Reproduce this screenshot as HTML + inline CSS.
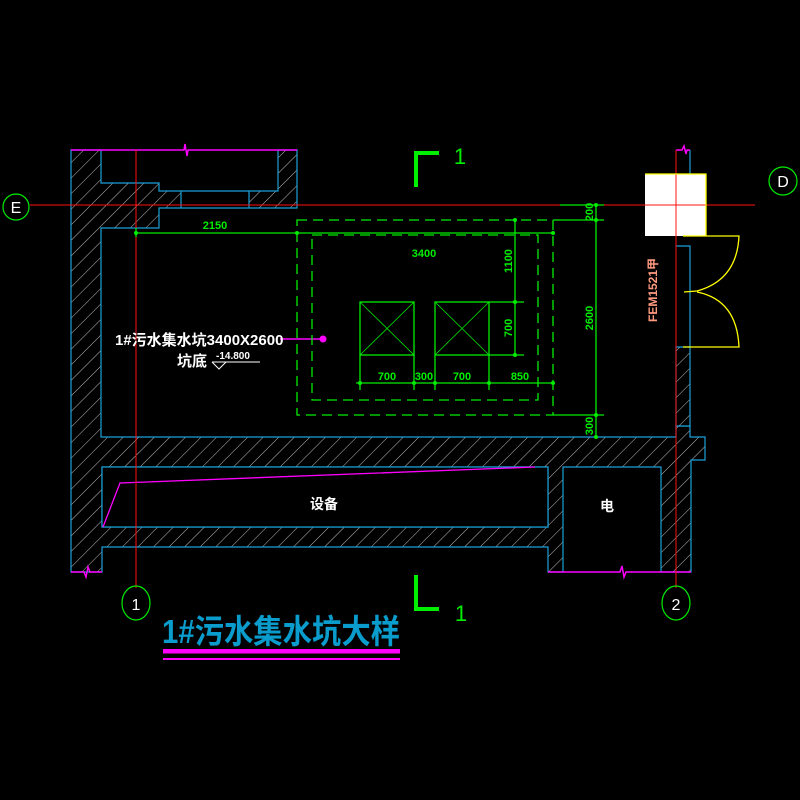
<!DOCTYPE html>
<html><head><meta charset="utf-8"><style>
html,body{margin:0;padding:0;background:#000;}
svg{display:block}
text{font-family:"Liberation Sans","Noto Sans CJK SC",sans-serif;}
</style></head><body>
<svg width="800" height="800" viewBox="0 0 800 800" xmlns="http://www.w3.org/2000/svg">
<defs>
<pattern id="h" patternUnits="userSpaceOnUse" width="11" height="11" patternTransform="rotate(45)">
<rect width="11" height="11" fill="#000"/>
<line x1="0" y1="0" x2="0" y2="11" stroke="#bdbdbd" stroke-width="1"/>
</pattern>
</defs>
<rect width="800" height="800" fill="#000"/>

<!-- hatched walls -->
<g fill="url(#h)" stroke="#1aa0d8" stroke-width="1.2">
<path d="M71,150 L101,150 L101,183 L159,183 L159,191 L181,191 L181,208 L159,208 L159,228 L101,228 L101,437 L676,437 L676,426 L690,426 L690,437 L705,437 L705,460 L691,460 L691,572 L661,572 L661,467 L563,467 L563,572 L548,572 L548,547 L102,547 L102,572 L71,572 Z M102,467 L102,527 L548,527 L548,467 Z"/>
<path d="M278,150 L297,150 L297,208 L249,208 L249,191 L278,191 Z"/>
<path d="M676,347 L690,347 L690,426 L676,426 Z"/>
</g>
<rect x="102" y="467" width="446" height="60" fill="#000" stroke="#1aa0d8" stroke-width="1.2"/>
<line x1="181" y1="191" x2="249" y2="191" stroke="#1aa0d8" stroke-width="1.2"/>
<line x1="181" y1="208" x2="249" y2="208" stroke="#1aa0d8" stroke-width="1.2"/>
<path d="M676,246 L690,246 L690,347 M690,175 L690,150" fill="none" stroke="#1aa0d8" stroke-width="1.2"/>

<!-- magenta break lines -->
<g stroke="#ff00ff" stroke-width="1.5" fill="none">
<path d="M71,150 L184,150 L185,144 L187,156 L188,150 L297,150"/>
<path d="M71,572 L84,572 L86,577 L88,567 L90,572 L102,572"/>
<path d="M548,572 L620,572 L622,566 L624,577 L626,572 L691,572"/>
<path d="M676,150 L682,150 L684,146 L686,154 L687,150 L690,150"/>
<path d="M103,527 L120,483 L535,467" stroke-width="1.3"/>
<path d="M280,339 L323,339"/>
</g>
<circle cx="323" cy="339" r="3.5" fill="#ff00ff"/>

<!-- red axes -->
<g stroke="#ff1010" stroke-width="1">
<line x1="30" y1="205" x2="755" y2="205"/>
<line x1="136" y1="150" x2="136" y2="588"/>
<line x1="676" y1="150" x2="676" y2="588"/>
</g>

<!-- white box + door -->
<rect x="645" y="174" width="61" height="62" fill="#fff"/>
<line x1="676" y1="174" x2="676" y2="236" stroke="#ff1010"/>
<line x1="645" y1="205" x2="706" y2="205" stroke="#ff1010"/>
<g stroke="#ffff00" stroke-width="1.3" fill="none">
<path d="M645,174 L706,174 L706,236"/>
<path d="M683,236 L739,236 Q737,280 697,291 L684,292"/>
<path d="M683,347 L739,347 Q737,300 697,292"/>
</g>
<text transform="translate(657,290) rotate(-90)" fill="#ff9a80" font-size="12" text-anchor="middle" font-weight="bold">FEM1521甲</text>

<!-- green pit -->
<g stroke="#00ee00" stroke-width="1.3" fill="none">
<rect x="297" y="220" width="256" height="195" stroke-dasharray="10,6"/>
<rect x="312" y="235" width="226" height="165" stroke-dasharray="10,6"/>
<rect x="360" y="302" width="54" height="53"/>
<rect x="435" y="302" width="54" height="53"/>
<path d="M360,302 L414,355 M414,302 L360,355 M435,302 L489,355 M489,302 L435,355" stroke-width="0.8"/>
<line x1="136" y1="233" x2="553" y2="233"/>
<line x1="136" y1="228" x2="136" y2="237"/>
<line x1="356" y1="383" x2="553" y2="383"/>
<path d="M360,355 L360,390 M414,355 L414,390 M435,355 L435,390 M489,355 L489,390"/>
<line x1="515" y1="220" x2="515" y2="355"/>
<path d="M489,302 L524,302 M489,355 L524,355"/>
<line x1="596" y1="205" x2="596" y2="437"/>
<path d="M560,205 L604,205 M553,220 L604,220 M553,415 L604,415"/>
</g>
<g fill="#00ee00">
<circle cx="136" cy="233" r="2"/><circle cx="297" cy="233" r="2"/><circle cx="553" cy="233" r="2"/>
<circle cx="360" cy="383" r="2"/><circle cx="414" cy="383" r="2"/><circle cx="435" cy="383" r="2"/><circle cx="489" cy="383" r="2"/><circle cx="553" cy="383" r="2"/>
<circle cx="515" cy="220" r="2"/><circle cx="515" cy="302" r="2"/><circle cx="515" cy="355" r="2"/>
<circle cx="596" cy="205" r="2"/><circle cx="596" cy="220" r="2"/><circle cx="596" cy="415" r="2"/><circle cx="596" cy="437" r="2"/>
</g>
<g fill="#00ee00" font-size="11" font-weight="bold" text-anchor="middle">
<text x="215" y="229">2150</text>
<text x="424" y="257" transform="translate(0,0)">3400</text>
<text x="387" y="380">700</text>
<text x="424" y="380">300</text>
<text x="462" y="380">700</text>
<text x="520" y="380">850</text>
<text transform="translate(512,261) rotate(-90)">1100</text>
<text transform="translate(512,328) rotate(-90)">700</text>
<text transform="translate(593,318) rotate(-90)">2600</text>
<text transform="translate(593,212) rotate(-90)">200</text>
<text transform="translate(593,426) rotate(-90)">300</text>
</g>

<!-- labels -->
<g fill="#fff" font-weight="bold">
<text x="115" y="345" font-size="15">1#污水集水坑3400X2600</text>
<text x="177" y="366" font-size="15">坑底</text>
<text x="216" y="359" font-size="10">-14.800</text>
<text x="310" y="509" font-size="14">设备</text>
<text x="600" y="511" font-size="14">电</text>
</g>
<path d="M212,362 L260,362 M212,362 L219,369 L226,362" stroke="#fff" fill="none" stroke-width="1"/>

<!-- axis bubbles -->
<g stroke="#00ee00" stroke-width="1.2" fill="none">
<circle cx="16" cy="207" r="13"/>
<circle cx="783" cy="181" r="14"/>
<ellipse cx="136" cy="603" rx="14" ry="17"/>
<ellipse cx="676" cy="603" rx="14" ry="17"/>
</g>
<g fill="#fff" font-size="16" text-anchor="middle">
<text x="16" y="213">E</text>
<text x="783" y="187">D</text>
<text x="136" y="610">1</text>
<text x="676" y="610">2</text>
</g>

<!-- section marks -->
<g fill="#00ee00">
<rect x="414" y="151" width="4" height="36"/><rect x="414" y="151" width="25" height="4"/>
<rect x="414" y="575" width="4" height="36"/><rect x="414" y="607" width="25" height="4"/>
</g>
<g fill="#00ee00" font-size="22" text-anchor="middle">
<text x="460" y="164">1</text>
<text x="461" y="621">1</text>
</g>

<!-- title -->
<text x="162" y="643" fill="#0a9ccc" font-size="33" font-weight="bold" textLength="238" lengthAdjust="spacingAndGlyphs">1#污水集水坑大样</text>
<rect x="163" y="649" width="237" height="4.5" fill="#ff00ff"/>
<rect x="163" y="658" width="237" height="2" fill="#ff00ff"/>
</svg>
</body></html>
